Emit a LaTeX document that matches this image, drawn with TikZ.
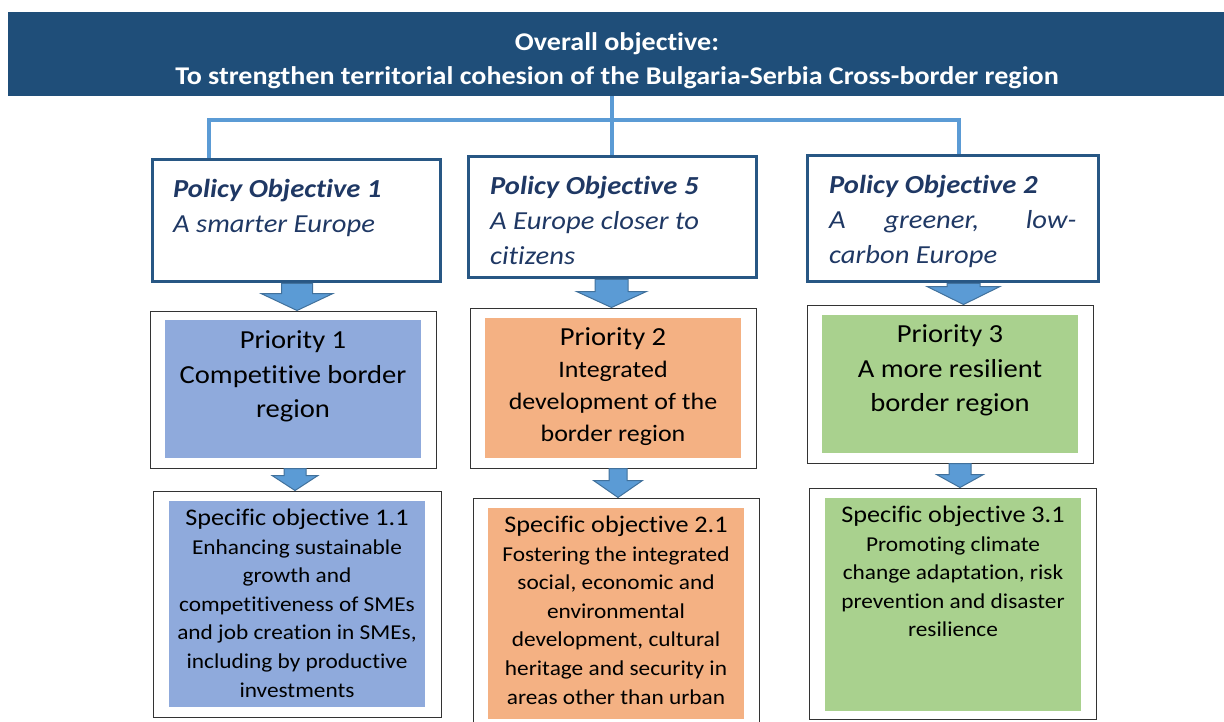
\documentclass[tikz,border=0pt]{standalone}
\usepackage{fontspec}
\setmainfont{Carlito}[FakeStretch=1.1, Ligatures=CommonOff]
\usepackage{tikz}
\usetikzlibrary{calc}
\definecolor{bannerblue}{HTML}{1F4E79}
\definecolor{poborder}{HTML}{285784}
\definecolor{potext}{HTML}{1F3864}
\definecolor{linkblue}{HTML}{5B9BD5}
\definecolor{arrowedge}{HTML}{41719C}
\definecolor{prioblue}{HTML}{8FAADC}
\definecolor{prioorange}{HTML}{F4B183}
\definecolor{priogreen}{HTML}{A9D18E}
\tikzstyle{banner} = [fill=bannerblue, inner sep=0]
\tikzstyle{bannertxt} = [text=white, anchor=north, align=center, inner sep=0, font=\bfseries\fontsize{25.5}{34}\selectfont]
\tikzstyle{pobox} = [draw=poborder, line width=3, inner sep=0]
\tikzstyle{potxt} = [text=potext, anchor=north west, align=left, inner sep=0, font=\itshape\fontsize{26}{35}\selectfont]
\tikzstyle{frame} = [draw=black!80, line width=1, inner sep=0]
\tikzstyle{fillbox} = [inner sep=0, minimum width=256pt]
\tikzstyle{priotxt} = [anchor=north, align=center, inner sep=0, font=\fontsize{26}{34.3}\selectfont]
\tikzstyle{sotxt} = [anchor=north, align=center, inner sep=0, font=\fontsize{21.2}{28.6}\selectfont]
\tikzstyle{link} = [linkblue, line width=4, line join=miter]
\tikzstyle{barrow} = [fill=linkblue, draw=arrowedge, line width=1, line join=miter]

% block arrow: from, to, x shift, shaft half width, head half width, head length
\newcommand{\blockarrow}[6]{%
  \coordinate (ba-top) at ($(#1.south)+(#3,0)$);
  \coordinate (ba-tip) at (ba-top |- #2.north);
  \filldraw[barrow] ($(ba-top)+(-#4,0)$) -- ($(ba-top)+(#4,0)$)
    -- ($(ba-tip)+(#4,-#6)$) -- ($(ba-tip)+(#5,-#6)$) -- (ba-tip)
    -- ($(ba-tip)+(-#5,-#6)$) -- ($(ba-tip)+(-#4,-#6)$) -- cycle;}

\begin{document}
\begin{tikzpicture}[x=1pt,y=-1pt]
\useasboundingbox (0,0) rectangle (1224,722);

% overall objective
\node[banner, minimum width=1216pt, minimum height=84pt] (banner) at (616,54) {};
\node[bannertxt] (title) at (617,32) {Overall objective:\\To strengthen territorial cohesion of the Bulgaria-Serbia Cross-border region};

% policy objectives
\node[pobox, minimum width=288pt, minimum height=122pt] (po1) at (296,221) {};
\node[pobox, minimum width=288pt, minimum height=121pt] (po5) at (612,217.5) {};
\node[pobox, minimum width=291pt, minimum height=126pt] (po2) at (952.5,219) {};
\node[potxt] (po1txt) at (173,179) {\textbf{Policy Objective 1}\\A smarter Europe};
\node[potxt] (po5txt) at (490,176) {\textbf{Policy Objective 5}\\A Europe closer to\\citizens};
\node[potxt] (po2txt) at (829,175) {\textbf{Policy Objective 2}\\\makebox[247pt][s]{A greener, low-}\\carbon Europe};

\coordinate (hub) at (612,120);
\coordinate (lx) at (209,120);
\coordinate (rx) at (959,120);
\draw[link] (banner.south -| hub) -- (po5.north -| hub);
\draw[link] (po1.north -| lx) -- (lx) -- (rx) -- (po2.north -| rx);

% priorities
\node[frame, minimum width=286pt, minimum height=157pt] (pr1frame) at (293,389.5) {};
\node[frame, minimum width=286pt, minimum height=160pt] (pr2frame) at (613,388) {};
\node[frame, minimum width=286pt, minimum height=158pt] (pr3frame) at (950,384) {};
\node[fillbox, fill=prioblue, minimum height=138pt] (pr1) at (293,389) {};
\node[fillbox, fill=prioorange, minimum height=140pt] (pr2) at (613,388) {};
\node[fillbox, fill=priogreen, minimum height=138pt] (pr3) at (950,384) {};
\node[priotxt] (pr1txt) at ($(pr1.north)+(0,11)$) {Priority 1\\Competitive border\\region};
\node[priotxt, font=\fontsize{23.6}{32}\selectfont] (pr2txt) at ($(pr2.north)+(0,10)$) {{\fontsize{26}{32}\selectfont Priority 2}\\Integrated\\development of the\\border region};
\node[priotxt] (pr3txt) at ($(pr3.north)+(0,10)$) {Priority 3\\A more resilient\\border region};

% specific objectives
\node[frame, minimum width=288pt, minimum height=226pt] (so1frame) at (297,604) {};
\node[frame, minimum width=286pt, minimum height=230pt] (so2frame) at (616,613) {};
\node[frame, minimum width=287pt, minimum height=231pt] (so3frame) at (952.5,603.5) {};
\node[fillbox, fill=prioblue, minimum height=206pt] (so1) at (297,604) {};
\node[fillbox, fill=prioorange, minimum height=211pt] (so2) at (616,613.5) {};
\node[fillbox, fill=priogreen, minimum height=213pt] (so3) at (953,604.5) {};
\node[sotxt] (so1txt) at ($(so1.north)+(0,8)$) {{\fontsize{23.8}{28.6}\selectfont Specific objective 1.1}\\Enhancing sustainable\\growth and\\competitiveness of SMEs\\and job creation in SMEs,\\including by productive\\investments};
\node[sotxt] (so2txt) at ($(so2.north)+(0,8)$) {{\fontsize{23.8}{28.6}\selectfont Specific objective 2.1}\\Fostering the integrated\\social, economic and\\environmental\\development, cultural\\heritage and security in\\areas other than urban};
\node[sotxt] (so3txt) at ($(so3.north)+(0,8)$) {{\fontsize{23.8}{28.6}\selectfont Specific objective 3.1}\\Promoting climate\\change adaptation, risk\\prevention and disaster\\resilience};

% block arrows
\foreach \a/\b/\dx/\sw/\hw/\hl in {po1/pr1frame/1/15.5/36/17, po5/pr2frame/-0.5/16.5/35/16, po2/pr3frame/11/16.5/36.5/18,
  pr1frame/so1frame/2/11/23/15, pr2frame/so2frame/5/9/24.5/17, pr3frame/so3frame/10/11/23.5/13}
  {\blockarrow{\a}{\b}{\dx}{\sw}{\hw}{\hl}}
\end{tikzpicture}
\end{document}
